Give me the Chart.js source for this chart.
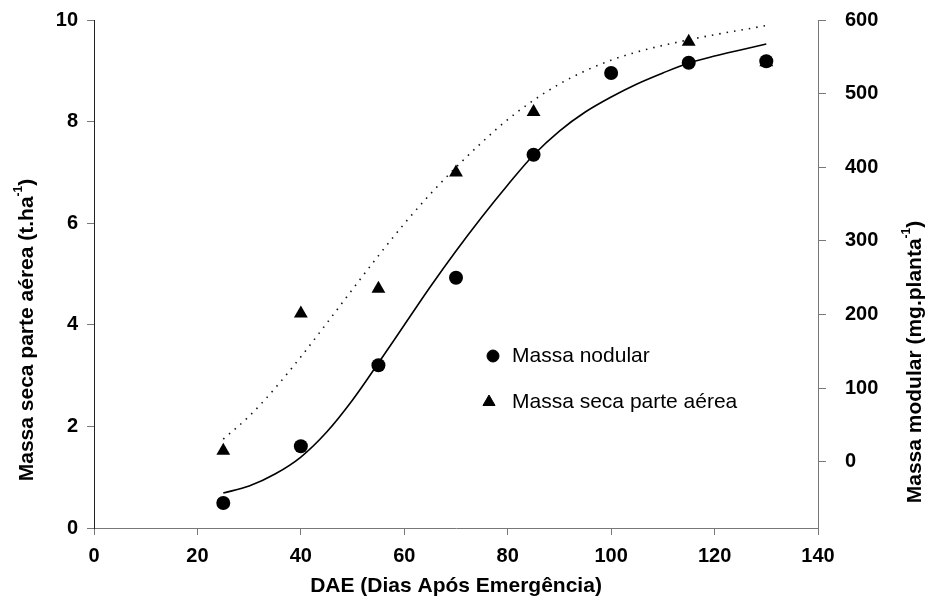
<!DOCTYPE html>
<html>
<head>
<meta charset="utf-8">
<script src="https://cdn.jsdelivr.net/npm/chart.js"></script>
<style>
  body { margin: 0; background: #fff; }
  #wrap { width: 928px; height: 607px; }
</style>
</head>
<body>
<div id="wrap"><canvas id="myChart" width="928" height="607"></canvas></div>
<script>
// dados
const dae = [25, 40, 55, 70, 85, 100, 115, 130];
const massaNodular = [-56, 21, 131, 250, 417, 528, 542, 544];        // mg/planta (eixo direito)
const massaSeca = [1.52, 4.22, 4.71, 7.0, 8.19, null, 9.57, 9.17];    // t/ha (eixo esquerdo)

const daeAjuste = [25, 30, 35, 40, 45, 50, 55, 60, 65, 70, 75, 80, 85, 90, 95, 100, 105, 110, 115, 120, 125, 130];
const ajusteNodular = [-42.5, -33, -16.7, 6.4, 40.4, 83.9, 134.1, 185.7, 237.3, 286.2, 332.4, 375.9, 416.6, 449.2, 475, 495.4, 513.1, 528, 541.6, 551.1, 559.3, 567.4];
const ajusteSeca = [1.75, 2.20, 2.75, 3.37, 4.03, 4.70, 5.36, 5.99, 6.57, 7.10, 7.59, 8.04, 8.42, 8.74, 9.00, 9.21, 9.37, 9.50, 9.61, 9.71, 9.80, 9.89];

const xTicks = [0, 20, 40, 60, 80, 100, 120, 140];
const yTicks = [0, 2, 4, 6, 8, 10];
const y1Ticks = [0, 100, 200, 300, 400, 500, 600];

const legendLabels = ['Massa nodular', 'Massa seca parte aérea'];
const xTitle = 'DAE (Dias Após Emergência)';
const yTitle = ['Massa seca parte aérea (t.ha', '-1', ')'];
const y1Title = ['Massa modular (mg.planta', '-1', ')'];

function pts(xs, ys) {
  let out = [];
  for (let i = 0; i < xs.length; i++) {
    if (ys[i] !== null) out.push({x: xs[i], y: ys[i]});
  }
  return out;
}

const boldFont = 'bold 21px "Liberation Sans", Arial, sans-serif';
const supFont = 'bold 12px "Liberation Sans", Arial, sans-serif';

// titulo vertical com expoente
function drawVTitle(ctx, parts, cx, cy) {
  ctx.save();
  ctx.fillStyle = '#000';
  ctx.textBaseline = 'middle';
  ctx.textAlign = 'left';
  ctx.font = boldFont;
  const w0 = ctx.measureText(parts[0]).width;
  const w2 = ctx.measureText(parts[2]).width;
  ctx.font = supFont;
  const w1 = ctx.measureText(parts[1]).width;
  ctx.translate(cx, cy);
  ctx.rotate(-Math.PI / 2);
  let x = -(w0 + w1 + w2) / 2;
  ctx.font = boldFont;
  ctx.fillText(parts[0], x, 0);
  x += w0;
  ctx.font = supFont;
  ctx.fillText(parts[1], x, -8);
  x += w1;
  ctx.font = boldFont;
  ctx.fillText(parts[2], x, 0);
  ctx.restore();
}

const decorPlugin = {
  id: 'decor',
  afterDraw(chart) {
    const ctx = chart.ctx;
    const a = chart.chartArea;
    // titulos dos eixos
    drawVTitle(ctx, yTitle, 27, 330);
    drawVTitle(ctx, y1Title, 915, 362);
    ctx.save();
    ctx.font = boldFont;
    ctx.fillStyle = '#000';
    ctx.textAlign = 'center';
    ctx.textBaseline = 'middle';
    ctx.fillText(xTitle, (a.left + a.right) / 2, 586);
    ctx.restore();

    // legenda dentro do grafico
    const lx = a.left + 399;
    const ly = [a.top + 336, a.top + 382];
    const styles = ['circle', 'triangle'];
    const radii = [6, 7];
    ctx.save();
    for (let i = 0; i < 2; i++) {
      ctx.fillStyle = '#000';
      ctx.strokeStyle = '#000';
      ctx.lineWidth = 1;
      Chart.helpers.drawPoint(ctx, {pointStyle: styles[i], radius: radii[i], borderWidth: 1, rotation: 0}, lx - (i ? 4 : 0), ly[i]);
      ctx.font = '21px "Liberation Sans", Arial, sans-serif';
      ctx.textAlign = 'left';
      ctx.textBaseline = 'middle';
      ctx.fillText(legendLabels[i], lx + 19, ly[i]);
    }
    ctx.restore();
  }
};

const tickFont = {family: '"Liberation Sans", Arial, sans-serif', size: 20, weight: 'bold'};

function noPadY(s, w) {
  s.width = w;
  s.paddingTop = 0;
  s.paddingBottom = 0;
}

const ctx = document.getElementById('myChart').getContext('2d');
const myChart = new Chart(ctx, {
  type: 'scatter',
  data: {
    datasets: [
      {
        label: legendLabels[0],
        data: pts(dae, massaNodular),
        yAxisID: 'y1',
        pointStyle: 'circle',
        pointRadius: 7,
        pointBorderWidth: 0,
        backgroundColor: '#000',
        borderColor: '#000',
        showLine: false
      },
      {
        label: legendLabels[1],
        data: pts(dae, massaSeca),
        yAxisID: 'y',
        pointStyle: 'triangle',
        pointRadius: 8,
        pointBorderWidth: 0,
        backgroundColor: '#000',
        borderColor: '#000',
        showLine: false
      },
      {
        label: 'ajuste nodular',
        data: pts(daeAjuste, ajusteNodular),
        yAxisID: 'y1',
        showLine: true,
        pointRadius: 0,
        borderColor: '#000',
        borderWidth: 1.6,
        cubicInterpolationMode: 'monotone'
      },
      {
        label: 'ajuste seca',
        data: pts(daeAjuste, ajusteSeca),
        yAxisID: 'y',
        showLine: true,
        pointRadius: 0,
        borderColor: '#111',
        borderWidth: 1.6,
        borderDash: [1.5, 6],
        cubicInterpolationMode: 'monotone'
      }
    ]
  },
  options: {
    responsive: false,
    animation: false,
    devicePixelRatio: 1,
    layout: {padding: {top: 20, left: 0, right: 0, bottom: 0}},
    plugins: {
      legend: {display: false},
      tooltip: {enabled: false}
    },
    scales: {
      x: {
        type: 'linear',
        min: 0,
        max: 140,
        afterBuildTicks: s => { s.ticks = xTicks.map(v => ({value: v})); },
        afterFit: s => { s.height = 79; s.paddingLeft = 0; s.paddingRight = 0; },
        border: {color: '#777', width: 1},
        grid: {drawOnChartArea: false, tickLength: 7, color: '#777'},
        ticks: {color: '#000', font: tickFont, padding: 9, maxRotation: 0}
      },
      y: {
        position: 'left',
        min: 0,
        max: 10,
        afterBuildTicks: s => { s.ticks = yTicks.map(v => ({value: v})); },
        afterFit: s => noPadY(s, 94),
        border: {color: '#222', width: 1},
        grid: {drawOnChartArea: false, tickLength: 7, color: '#777'},
        ticks: {color: '#000', font: tickFont, padding: 9}
      },
      y1: {
        position: 'right',
        min: -90,
        max: 600,
        afterBuildTicks: s => { s.ticks = y1Ticks.map(v => ({value: v})); },
        afterFit: s => noPadY(s, 110),
        border: {color: '#777', width: 1},
        grid: {drawOnChartArea: false, tickLength: 8, color: '#777'},
        ticks: {color: '#000', font: tickFont, padding: 19}
      }
    }
  },
  plugins: [decorPlugin]
});
</script>
</body>
</html>
